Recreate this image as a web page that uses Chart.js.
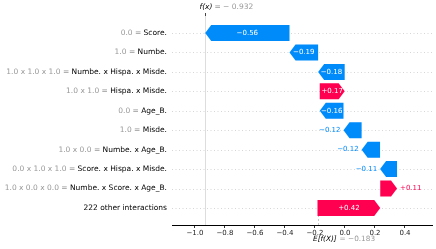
<!DOCTYPE html>
<html>
<head>
<meta charset="utf-8">
<script src="https://cdn.jsdelivr.net/npm/chart.js@4/dist/chart.umd.min.js"></script>
<style>
  html, body { margin: 0; padding: 0; background: #fff; }
  #wrap { width: 436px; height: 249px; }
</style>
</head>
<body>
<div id="wrap"><canvas id="waterfallChart" width="436" height="249"></canvas></div>
<script>
// rows from top to bottom
const featureValues = ['0.0', '1.0', '1.0 x 1.0 x 1.0', '1.0 x 1.0', '0.0', '1.0', '1.0 x 0.0', '0.0 x 1.0 x 1.0', '1.0 x 0.0 x 0.0', ''];
const featureNames = ['Score.', 'Numbe.', 'Numbe. x Hispa. x Misde.', 'Hispa. x Misde.', 'Age_B.', 'Misde.', 'Numbe. x Age_B.', 'Score. x Hispa. x Misde.', 'Numbe. x Score. x Age_B.', '222 other interactions'];
const shapValues = [-0.562, -0.191, -0.177, 0.166, -0.158, -0.121, -0.123, -0.113, 0.112, 0.418];
const baseValue = -0.183;
const xTicks = [-1.0, -0.8, -0.6, -0.4, -0.2, 0.0, 0.2, 0.4];

const BLUE = '#008bfb';
const RED = '#ff0051';

// chain the arrows upward from the base value
const segments = [];
let running = baseValue;
for (let i = shapValues.length - 1; i >= 0; i--) {
    segments[i] = [running, running + shapValues[i]];
    running += shapValues[i];
}
const fx = running;

function fmtShap(v) {
    return (v < 0 ? '\u2212' : '+') + Math.abs(v).toFixed(2);
}
function fmtTick(v) {
    return (v < -1e-9 ? '\u2212' : '') + Math.abs(v).toFixed(1);
}

const waterfallPlugin = {
    id: 'waterfall',
    beforeDatasetsDraw(chart) {
        const { ctx, chartArea, scales } = chart;
        const xs = scales.x, ys = scales.y;
        ctx.save();
        // dotted row lines
        ctx.strokeStyle = '#cccccc';
        ctx.lineWidth = 0.8;
        ctx.setLineDash([1, 2.5]);
        featureNames.forEach((_, i) => {
            const y = Math.round(ys.getPixelForValue(i)) + 0.5;
            ctx.beginPath();
            ctx.moveTo(chartArea.left, y);
            ctx.lineTo(chartArea.right, y);
            ctx.stroke();
        });
        // base value line (bottom part only)
        const bx = Math.round(xs.getPixelForValue(baseValue)) + 0.5;
        ctx.strokeStyle = '#bbbbbb';
        ctx.setLineDash([2, 2]);
        ctx.beginPath();
        ctx.moveTo(bx, chartArea.bottom);
        ctx.lineTo(bx, chartArea.bottom - (chartArea.bottom - chartArea.top) / featureNames.length);
        ctx.stroke();
        // f(x) line
        const fxp = Math.round(xs.getPixelForValue(fx)) + 0.5;
        ctx.setLineDash([]);
        ctx.strokeStyle = '#dddddd';
        ctx.lineWidth = 1;
        ctx.beginPath();
        ctx.moveTo(fxp, chartArea.top);
        ctx.lineTo(fxp, chartArea.bottom);
        ctx.stroke();
        ctx.restore();
    },
    afterDatasetsDraw(chart) {
        const { ctx, chartArea, scales } = chart;
        const xs = scales.x, ys = scales.y;
        const meta = chart.getDatasetMeta(0);
        ctx.save();
        ctx.textBaseline = 'middle';

        segments.forEach((seg, i) => {
            const a = xs.getPixelForValue(seg[0]);
            const b = xs.getPixelForValue(seg[1]);
            const y = ys.getPixelForValue(i);
            const h = meta.data[i].height;
            const dir = b >= a ? 1 : -1;
            const len = Math.abs(b - a);
            const head = Math.min(6, len);
            const neck = b - dir * head;
            const color = shapValues[i] < 0 ? BLUE : RED;

            ctx.fillStyle = color;
            ctx.beginPath();
            ctx.moveTo(a, y - h / 2);
            ctx.lineTo(neck, y - h / 2);
            ctx.lineTo(b, y);
            ctx.lineTo(neck, y + h / 2);
            ctx.lineTo(a, y + h / 2);
            ctx.closePath();
            ctx.fill();

            ctx.font = '7px "DejaVu Sans"';
            const txt = fmtShap(shapValues[i]);
            const w = ctx.measureText(txt).width;
            if (w < len) {
                ctx.fillStyle = '#ffffff';
                ctx.textAlign = 'center';
                ctx.fillText(txt, (a + b) / 2, y);
            } else {
                ctx.fillStyle = color;
                ctx.textAlign = dir < 0 ? 'right' : 'left';
                ctx.fillText(txt, b + dir * 3, y);
            }
        });

        // feature labels
        ctx.font = '7.5px "DejaVu Sans"';
        ctx.textAlign = 'right';
        const labelX = chartArea.left - 5;
        featureNames.forEach((name, i) => {
            const y = ys.getPixelForValue(i);
            ctx.fillStyle = '#000000';
            ctx.fillText(name, labelX, y);
            if (featureValues[i]) {
                const nw = ctx.measureText(name).width;
                ctx.fillStyle = '#999999';
                ctx.fillText(featureValues[i] + ' = ', labelX - nw, y);
            }
        });

        // f(x) annotation
        const fxp = Math.round(xs.getPixelForValue(fx)) + 0.5;
        ctx.strokeStyle = '#444444';
        ctx.lineWidth = 1;
        ctx.beginPath();
        ctx.moveTo(fxp, chartArea.top - 3);
        ctx.lineTo(fxp, chartArea.top);
        ctx.stroke();
        ctx.textAlign = 'left';
        ctx.font = 'italic 7.5px "DejaVu Sans"';
        ctx.fillStyle = '#000000';
        const fxStart = fxp - 6;
        ctx.fillText('f(x)', fxStart, 7);
        const fw = ctx.measureText('f(x)').width;
        ctx.font = '7.5px "DejaVu Sans"';
        ctx.fillStyle = '#999999';
        ctx.fillText('= \u2212 ' + Math.abs(fx).toFixed(3), fxStart + fw + 2, 7);

        // E[f(X)] annotation
        const bx = xs.getPixelForValue(baseValue);
        ctx.font = 'italic 7.3px "DejaVu Sans"';
        ctx.fillStyle = '#000000';
        const eStart = bx - 4.5;
        ctx.fillText('E[f(X)]', eStart, 239.5);
        const ew = ctx.measureText('E[f(X)]').width;
        ctx.font = '7.3px "DejaVu Sans"';
        ctx.fillStyle = '#999999';
        ctx.fillText('= \u2212' + Math.abs(baseValue).toFixed(3), eStart + ew + 3, 239.5);
        ctx.restore();
    }
};

const waterfallCtx = document.getElementById('waterfallChart').getContext('2d');
const waterfallChart = new Chart(waterfallCtx, {
    type: 'bar',
    data: {
        datasets: [{
            data: segments.map((s, i) => ({ x: s, y: i })),
            backgroundColor: 'rgba(0,0,0,0)',
            borderWidth: 0,
            barThickness: 16,
        }],
    },
    options: {
        indexAxis: 'y',
        responsive: false,
        animation: false,
        layout: { padding: { left: 172, right: 4, top: 16, bottom: 10 } },
        plugins: {
            legend: { display: false },
            tooltip: { enabled: false },
        },
        scales: {
            y: {
                type: 'linear',
                min: -0.875,
                max: 9.875,
                reverse: true,
                offset: false,
                display: false,
            },
            x: {
                type: 'linear',
                min: -1.153,
                max: 0.58,
                afterBuildTicks: (scale) => { scale.ticks = xTicks.map(v => ({ value: v })); },
                afterFit: (scale) => { scale.height = 14; },
                grid: { drawOnChartArea: false, tickLength: 3, color: '#333333' },
                border: { color: '#000000', width: 1 },
                ticks: {
                    padding: 1,
                    color: '#222222',
                    maxRotation: 0,
                    font: { family: 'DejaVu Sans', size: 7 },
                    callback: (v) => fmtTick(v),
                },
            },
        },
    },
    plugins: [waterfallPlugin],
});
</script>
</body>
</html>
